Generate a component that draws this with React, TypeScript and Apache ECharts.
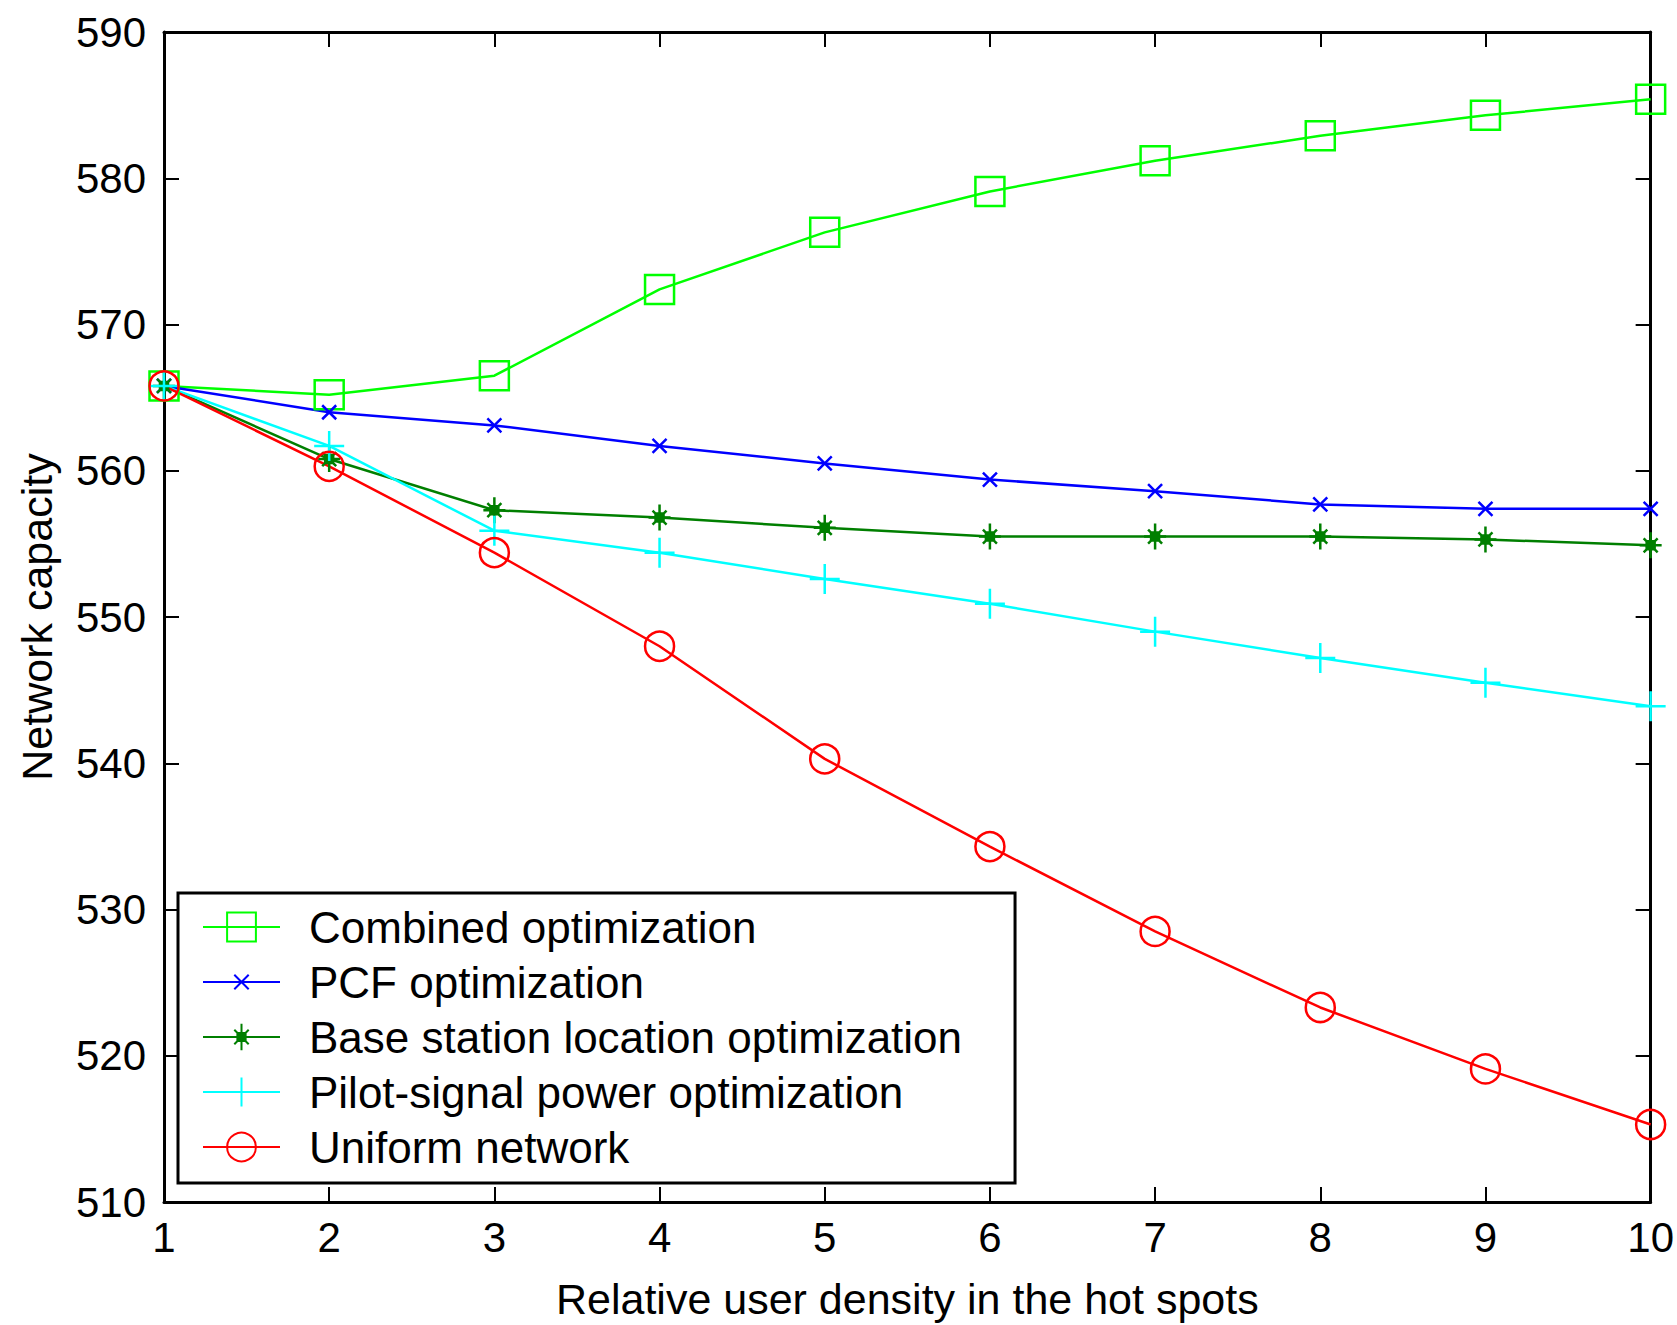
import React, { useEffect, useRef } from "react";
import * as echarts from "echarts";

const xValues = [1, 2, 3, 4, 5, 6, 7, 8, 9, 10];
const combined = [565.8, 565.2, 566.5, 572.4, 576.3, 579.1, 581.2, 582.9, 584.3, 585.4];
const pcf = [565.8, 564.0, 563.1, 561.7, 560.5, 559.4, 558.6, 557.7, 557.4, 557.4];
const baseStation = [565.8, 560.8, 557.3, 556.8, 556.1, 555.5, 555.5, 555.5, 555.3, 554.9];
const pilot = [565.8, 561.7, 555.9, 554.4, 552.6, 550.9, 549.0, 547.2, 545.5, 543.9];
const uniform = [565.8, 560.3, 554.4, 548.0, 540.3, 534.3, 528.5, 523.3, 519.1, 515.3];

const seriesNames = [
  "Combined optimization",
  "PCF optimization",
  "Base station location optimization",
  "Pilot-signal power optimization",
  "Uniform network",
];

const FONT = "Liberation Sans";

const X_SYMBOL = "path://M0,0M28,28M7,7L21,21M21,7L7,21";
const STAR_SYMBOL =
  "path://M0,0M28,28M14,1L14,27M3,14L25,14M7,7L21,21M21,7L7,21M10,10L18,10L18,18L10,18Z";
const PLUS_SYMBOL = "path://M14,0L14,28M0,14L28,14";

function pairs(ys: number[]) {
  return xValues.map((x, i) => [x, ys[i]]);
}

export default function App() {
  const ref = useRef<HTMLDivElement>(null);

  useEffect(() => {
    if (!ref.current) return;
    const chart = echarts.init(ref.current, undefined, { renderer: "svg" });

    const axisLine = { show: true, lineStyle: { color: "#000", width: 3 } };
    const axisTick = { show: true, inside: true, length: 15, lineStyle: { color: "#000", width: 2 } };

    const mk = (
      name: string,
      data: number[],
      color: string,
      symbol: string,
      size: number,
      fill: string
    ) => ({
      name,
      type: "line",
      data: pairs(data),
      symbol,
      symbolSize: size,
      showSymbol: true,
      lineStyle: { color, width: 2.5 },
      itemStyle: { color: fill, borderColor: color, borderWidth: 2.5 },
      emphasis: { disabled: true },
      z: 3,
    });

    chart.setOption({
      animation: false,
      backgroundColor: "#fff",
      grid: { left: 164, top: 32, right: 22, bottom: 121, containLabel: false },
      xAxis: [
        {
          type: "value",
          min: 1,
          max: 10,
          interval: 1,
          position: "bottom",
          axisLine,
          axisTick,
          splitLine: { show: false },
          axisLabel: { color: "#000", fontSize: 42, fontFamily: FONT, margin: 14 },
          name: "Relative user density in the hot spots",
          nameLocation: "middle",
          nameGap: 75,
          nameTextStyle: { color: "#000", fontSize: 43, fontFamily: FONT },
        },
        {
          type: "value",
          min: 1,
          max: 10,
          interval: 1,
          position: "top",
          axisLine,
          axisTick,
          splitLine: { show: false },
          axisLabel: { show: false },
        },
      ],
      yAxis: [
        {
          type: "value",
          min: 510,
          max: 590,
          interval: 10,
          position: "left",
          axisLine,
          axisTick,
          splitLine: { show: false },
          axisLabel: { color: "#000", fontSize: 42, fontFamily: FONT, margin: 18 },
          name: "Network capacity",
          nameLocation: "middle",
          nameGap: 106,
          nameTextStyle: { color: "#000", fontSize: 43, fontFamily: FONT },
        },
        {
          type: "value",
          min: 510,
          max: 590,
          interval: 10,
          position: "right",
          axisLine,
          axisTick,
          splitLine: { show: false },
          axisLabel: { show: false },
        },
      ],
      legend: {
        orient: "vertical",
        left: 178,
        top: 893,
        itemWidth: 77,
        itemHeight: 36,
        itemGap: 11,
        padding: [12, 53, 14, 24],
        borderColor: "#000",
        borderWidth: 3,
        backgroundColor: "#fff",
        selectedMode: false,
        textStyle: { color: "#000", fontSize: 44, fontFamily: FONT, padding: [0, 0, 0, 24] },
        data: seriesNames,
      },
      series: [
        mk(seriesNames[0], combined, "#00ff00", "rect", 29, "transparent"),
        mk(seriesNames[1], pcf, "#0000ff", X_SYMBOL, 28, "transparent"),
        mk(seriesNames[2], baseStation, "#007f00", STAR_SYMBOL, 28, "#007f00"),
        mk(seriesNames[3], pilot, "#00ffff", PLUS_SYMBOL, 30, "transparent"),
        mk(seriesNames[4], uniform, "#ff0000", "circle", 29, "transparent"),
      ],
    });

    return () => chart.dispose();
  }, []);

  return (
    <div
      ref={ref}
      style={{ position: "absolute", left: 0, top: 0, width: 1677, height: 1325, background: "#fff" }}
    />
  );
}
